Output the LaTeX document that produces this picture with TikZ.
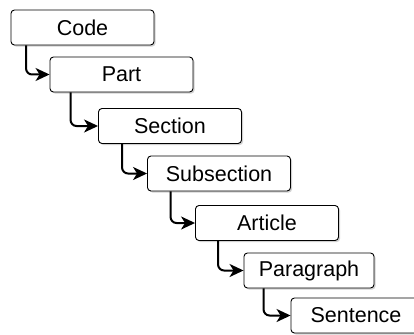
\documentclass[tikz,border=0pt]{standalone}
\usepackage{fontspec}
\setmainfont{Liberation Sans}
\usetikzlibrary{arrows.meta}
\begin{document}
\begin{tikzpicture}[x=1pt,y=-1pt,
  level/.style={draw=black, line width=0.9pt, fill=white, rounded corners=3.5pt,
    minimum height=35pt, inner sep=0pt, font=\fontsize{21.5}{25}\selectfont},
  wide/.style={level, minimum width=143pt},
  narrow/.style={level, minimum width=130pt},
  shade/.style={fill=black!18, rounded corners=3.5pt, draw=none},
  link/.style={line width=2pt, rounded corners=6pt,
    -{Stealth[length=14pt,width=13pt,inset=4pt]}}
]
\useasboundingbox (0,0) rectangle (414,334);
% soft drop shadows beneath the boxes
\foreach \cx/\cy/\w in {82.5/27.5/143, 121.5/74.5/143, 170/126/143, 219/173.5/143,
                        267/223/143, 309/270.5/130, 356/315.5/130}{
  \fill[shade] ({\cx-\w/2+1.6},{\cy-17.5+1.6}) rectangle ({\cx+\w/2+1.6},{\cy+17.5+1.6});
}
% hierarchy levels
\node[wide]   (code)  at (82.5,27.5) {Code};
\node[wide]   (part)  at (121.5,74.5) {Part};
\node[wide]   (sect)  at (170,126)   {Section};
\node[wide]   (sub)   at (219,173.5) {Subsection};
\node[wide]   (art)   at (267,223)   {Article};
\node[narrow] (para)  at (309,270.5) {Paragraph};
\node[narrow] (sent)  at (356,315.5) {Sentence};
% connectors: down from each box, then right into the next one
\draw[link] (code.south west) ++(15.5,0) |- (part.west);
\draw[link] (part.south west) ++(21,0)   |- (sect.west);
\draw[link] (sect.south west) ++(24,0)   |- (sub.west);
\draw[link] (sub.south west)  ++(23.5,0) |- (art.west);
\draw[link] (art.south west)  ++(23,0)   |- (para.west);
\draw[link] (para.south west) ++(20,0)   |- (sent.west);
\end{tikzpicture}
\end{document}
